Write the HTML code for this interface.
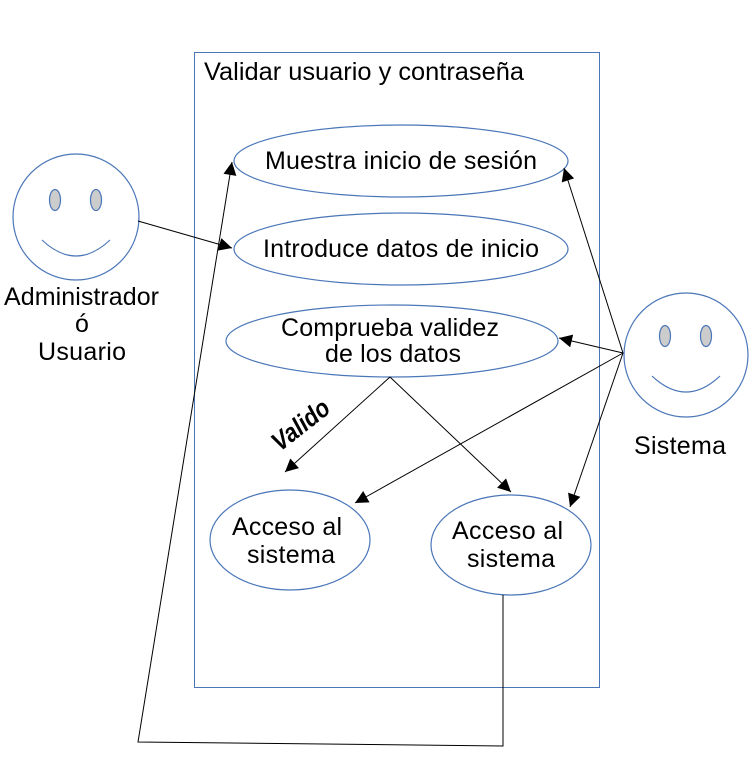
<!DOCTYPE html>
<html><head><meta charset="utf-8"><style>
html,body{margin:0;padding:0;background:#fff;}
svg{display:block;}
text{font-family:"Liberation Sans",sans-serif;fill:#000;}
</style></head><body>
<svg width="753" height="783" viewBox="0 0 753 783" xmlns="http://www.w3.org/2000/svg">
<defs>
<marker id="a" viewBox="0 0 10 10" refX="10" refY="5" markerWidth="18" markerHeight="13" markerUnits="userSpaceOnUse" orient="auto">
<path d="M0,0 L10,5 L0,10 z" fill="#000"/>
</marker>
</defs>
<rect x="194.5" y="52.5" width="405" height="635" fill="none" stroke="#4a76b8" stroke-width="1"/>
<text x="204" y="80" font-size="25" textLength="320" lengthAdjust="spacingAndGlyphs">Validar usuario y contraseña</text>

<g fill="#fff" stroke="#4a76b8" stroke-width="1.2">
<ellipse cx="401" cy="161" rx="167" ry="36"/>
<ellipse cx="401" cy="249" rx="167" ry="36"/>
<ellipse cx="392" cy="341" rx="166" ry="36"/>
<ellipse cx="290" cy="540" rx="80" ry="50"/>
<ellipse cx="511" cy="545" rx="80" ry="50"/>
<circle cx="76" cy="217" r="63"/>
<circle cx="686" cy="355" r="62"/>
</g>
<g fill="#ccc" stroke="#4a76b8" stroke-width="1.2">
<ellipse cx="55" cy="200" rx="5.5" ry="10.5"/>
<ellipse cx="96" cy="200" rx="5.5" ry="10.5"/>
<ellipse cx="665" cy="336" rx="5.5" ry="10.5"/>
<ellipse cx="706" cy="336" rx="5.5" ry="10.5"/>
</g>
<g fill="none" stroke="#4a76b8" stroke-width="1.2">
<path d="M42,240 Q76,272 110,240"/>
<path d="M652,376 Q686,408 720,376"/>
</g>

<g font-size="25" lengthAdjust="spacingAndGlyphs">
<text x="265" y="169" textLength="272">Muestra inicio de sesión</text>
<text x="263" y="257" textLength="276">Introduce datos de inicio</text>
<text x="281" y="336" textLength="218">Comprueba validez</text>
<text x="325" y="362" textLength="136">de los datos</text>
<text x="232" y="535" textLength="110">Acceso al</text>
<text x="247" y="563" textLength="88">sistema</text>
<text x="452" y="539" textLength="111">Acceso al</text>
<text x="467" y="567" textLength="88">sistema</text>
<text x="4" y="305" textLength="155">Administrador</text>
<text x="75" y="332">ó</text>
<text x="38" y="360" textLength="88">Usuario</text>
<text x="634" y="454" textLength="92">Sistema</text>
</g>
<text x="0" y="0" font-size="26" font-style="italic" font-weight="bold" textLength="66" lengthAdjust="spacingAndGlyphs" transform="translate(280,452) rotate(-38)">Valido</text>

<g stroke="#000" stroke-width="1" fill="none" marker-end="url(#a)">
<line x1="138" y1="221" x2="232" y2="248"/>
<line x1="390" y1="377" x2="285" y2="472"/>
<line x1="390" y1="377" x2="511" y2="492"/>
<line x1="623" y1="353" x2="564" y2="168"/>
<line x1="623" y1="353" x2="559" y2="338"/>
<line x1="623" y1="353" x2="355" y2="503"/>
<line x1="623" y1="353" x2="570" y2="507"/>
<polyline points="503,595 503,746 138,742 232,162"/>
</g>
</svg>
</body></html>
